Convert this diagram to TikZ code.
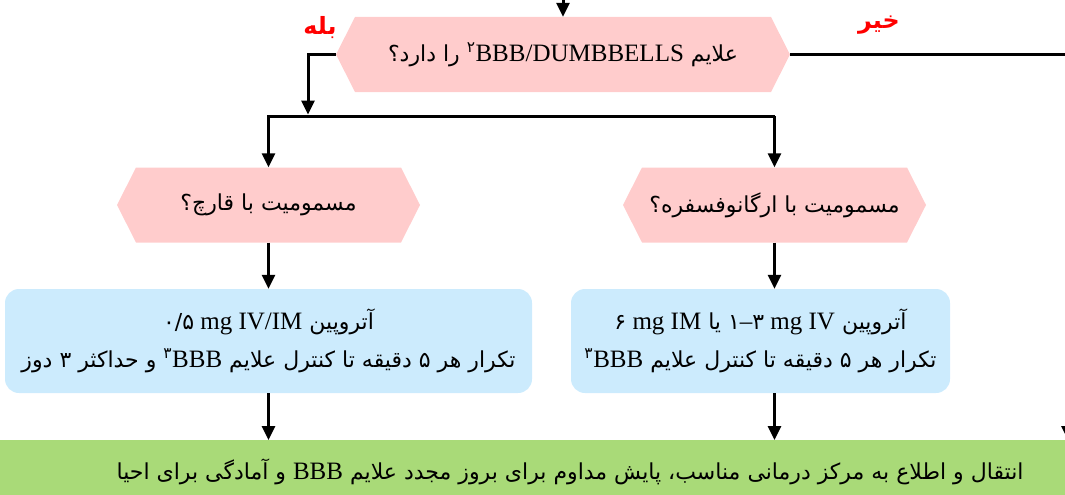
\documentclass[tikz,border=0pt]{standalone}
\usepackage{fontspec}
\setmainfont{Liberation Serif}
\newfontfamily\fafont[Script=Arabic,Scale=0.88]{DejaVu Sans}
\TeXXeTstate=1
\usetikzlibrary{arrows.meta}
\definecolor{askpink}{RGB}{255,204,204}
\definecolor{doseblue}{RGB}{204,235,253}
\definecolor{endgreen}{RGB}{169,218,120}
\newcommand\rtl[1]{\beginR #1\endR}
\newcommand\lat[1]{\beginL{\rmfamily #1}\endL}

\begin{document}
\begin{tikzpicture}[x=1pt,y=-1pt,
    every node/.style={font=\fafont\fontsize{25}{38}\selectfont},
    ask/.style={minimum height=75pt, inner sep=0pt,
      path picture={\fill[askpink] (path picture bounding box.west)
        -- ([xshift=19pt]path picture bounding box.north west)
        -- ([xshift=-19pt]path picture bounding box.north east)
        -- (path picture bounding box.east)
        -- ([xshift=-19pt]path picture bounding box.south east)
        -- ([xshift=19pt]path picture bounding box.south west) -- cycle;}},
    dose/.style={fill=doseblue, rounded corners=14pt, minimum height=104pt, align=center, inner sep=0pt},
    flow/.style={line width=3pt, -{Triangle[length=14pt,width=13pt]}},
    answer/.style={text=red, font=\fafont\bfseries\fontsize{27}{30}\selectfont}]
  \useasboundingbox (0,0) rectangle (1065,495);
  \clip (0,0) rectangle (1065,495);

  %%%%% questions %%%%%
  \node[ask, minimum width=454pt] (q1) at (563,54.5)
    {\rtl{علایم \lat{BBB/DUMBBELLS}\textsuperscript{۲} را دارد؟}};
  \node[ask, minimum width=303pt] (qL) at (268.5,205)
    {\rtl{مسمومیت با قارچ؟}};
  \node[ask, minimum width=303pt] (qR) at (774.5,205)
    {\rtl{مسمومیت با ارگانوفسفره؟}};

  \node[answer] (yes) at (320,28) {\rtl{بله}};
  \node[answer] (no) at (879,25) {\rtl{خیر}};

  %%%%% doses %%%%%
  \node[dose, minimum width=527pt] (bL) at (268.5,341)
    {\rtl{آتروپین \lat{{\fafont ۰/۵} mg IV/IM}}\\
     \rtl{تکرار هر ۵ دقیقه تا کنترل علایم \lat{BBB}\textsuperscript{۳} و حداکثر ۳ دوز}};
  \node[dose, minimum width=379pt] (bR) at (760.5,341)
    {\rtl{آتروپین \lat{{\fafont ۱}–{\fafont ۳} mg IV} یا \lat{{\fafont ۶} mg IM}}\\
     \rtl{تکرار هر ۵ دقیقه تا کنترل علایم \lat{BBB}\textsuperscript{۳}}};

  \node[fill=endgreen, rounded corners=14pt, minimum width=1180pt, minimum height=64pt, anchor=north] (fin) at (570,440)
    {\rtl{انتقال و اطلاع به مرکز درمانی مناسب، پایش مداوم برای بروز مجدد علایم \lat{BBB} و آمادگی برای احیا}};

  %%%%% connectors %%%%%
  \coordinate (entry) at (563,-20);
  \coordinate (split) at (308,116);
  \coordinate (noturn) at (1068,54.5);

  \draw[flow] (entry) -- (q1.north);
  \draw[flow, shorten >=1.5pt] (q1.west) -| (split);
  \draw[flow] (split -| qR.north) -- (split -| qL.north) -- (qL.north);
  \draw[flow] (split -| qR.north) -- (qR.north);
  \draw[flow] (q1.east) -- (noturn) -- (noturn |- fin.north);

  \draw[flow] (qL.south) -- (qL.south |- bL.north);
  \draw[flow] (qR.south) -- (qR.south |- bR.north);
  \draw[flow] (bL.south -| qL.south) -- (qL.south |- fin.north);
  \draw[flow] (bR.south -| qR.south) -- (qR.south |- fin.north);
\end{tikzpicture}
\end{document}
